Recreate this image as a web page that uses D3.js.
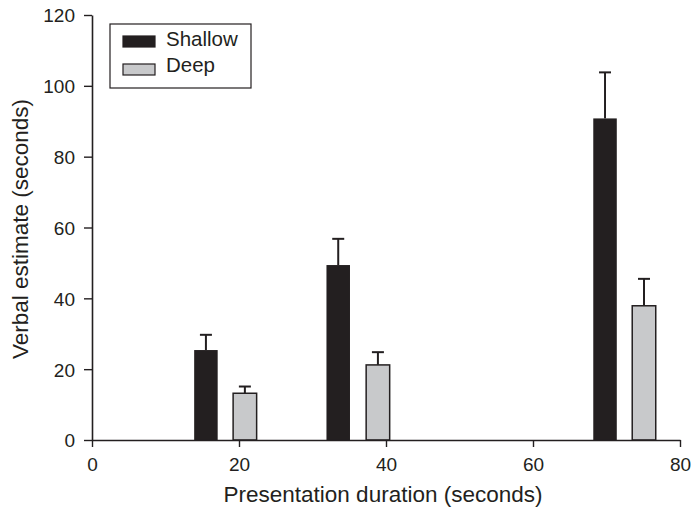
<!DOCTYPE html>
<html><head><meta charset="utf-8">
<script src="https://cdn.jsdelivr.net/npm/d3@7"></script>
<style>body{margin:0;background:#fff}svg{display:block}text{font-family:"Liberation Sans",Arial,sans-serif;fill:#231f20}</style>
</head><body><svg id="c" width="694" height="508"></svg>
<script>
const seriesNames = ["Shallow", "Deep"];
const shallowX = [15.5, 33.5, 69.8];
const shallowY = [25.4, 49.4, 90.8];
const shallowErr = [4.3, 7.4, 13.0];
const deepX = [20.8, 38.9, 75.1];
const deepY = [13.2, 21.2, 37.9];
const deepErr = [1.9, 3.6, 7.6];
const xTicks = [0, 20, 40, 60, 80];
const yTicks = [0, 20, 40, 60, 80, 100, 120];
const barWidthUnits = 3.2;

const svg = d3.select("#c");
const x = d3.scaleLinear().domain([0, 80]).range([92, 680]);
const y = d3.scaleLinear().domain([0, 120]).range([440, 15]);
const ink = "#231f20";
const colors = {Shallow: "#231f20", Deep: "#c8c9cb"};

const series = [
  {name: "Shallow", xs: shallowX, ys: shallowY, es: shallowErr},
  {name: "Deep", xs: deepX, ys: deepY, es: deepErr}
];

series.forEach(s => {
  const data = s.xs.map((v, i) => ({x: v, y: s.ys[i], e: s.es[i]}));
  const g = svg.append("g");
  g.selectAll("line.err").data(data).join("line")
    .attr("x1", d => x(d.x)).attr("x2", d => x(d.x))
    .attr("y1", d => y(d.y)).attr("y2", d => y(d.y + d.e))
    .attr("stroke", ink).attr("stroke-width", 2);
  g.selectAll("line.cap").data(data).join("line")
    .attr("x1", d => x(d.x) - 6).attr("x2", d => x(d.x) + 6)
    .attr("y1", d => y(d.y + d.e)).attr("y2", d => y(d.y + d.e))
    .attr("stroke", ink).attr("stroke-width", 2);
  g.selectAll("rect").data(data).join("rect")
    .attr("x", d => x(d.x - barWidthUnits / 2))
    .attr("width", d => x(d.x + barWidthUnits / 2) - x(d.x - barWidthUnits / 2))
    .attr("y", d => y(d.y))
    .attr("height", d => y(0) - y(d.y))
    .attr("fill", colors[s.name])
    .attr("stroke", ink).attr("stroke-width", s.name === "Deep" ? 1.5 : 0);
});

const xAxis = svg.append("g").attr("transform", `translate(0,${y(0)})`)
  .call(d3.axisBottom(x).tickValues(xTicks).tickSize(7).tickSizeOuter(0));
const yAxis = svg.append("g").attr("transform", `translate(${x(0)},0)`)
  .call(d3.axisLeft(y).tickValues(yTicks).tickSize(8).tickSizeOuter(0));
[xAxis, yAxis].forEach(a => {
  a.select(".domain").attr("stroke", ink).attr("stroke-width", 1.6);
  a.selectAll(".tick line").attr("stroke", ink).attr("stroke-width", 1.4);
  a.selectAll(".tick text").attr("font-size", 19).attr("font-family", '"Liberation Sans",Arial,sans-serif').attr("fill", ink);
});
xAxis.selectAll(".tick text").attr("y", 31).attr("dy", null);
yAxis.selectAll(".tick text").attr("x", -17).attr("dy", "0.36em");

svg.append("text").attr("x", 383).attr("y", 502)
  .attr("text-anchor", "middle").attr("font-size", 22.5).text("Presentation duration (seconds)");
svg.append("text").attr("transform", `translate(28,229) rotate(-90)`)
  .attr("text-anchor", "middle").attr("font-size", 22.5).text("Verbal estimate (seconds)");

const lg = svg.append("g");
lg.append("rect").attr("x", 110).attr("y", 24).attr("width", 141).attr("height", 64)
  .attr("fill", "#fff").attr("stroke", ink).attr("stroke-width", 1.2);
seriesNames.forEach((n, i) => {
  lg.append("rect").attr("x", 123).attr("y", 36 + i * 28).attr("width", 32).attr("height", 11)
    .attr("fill", colors[n]).attr("stroke", ink).attr("stroke-width", 1.2);
  lg.append("text").attr("x", 166).attr("y", 46 + i * 26).attr("font-size", 20.5).text(n);
});
</script></body></html>
